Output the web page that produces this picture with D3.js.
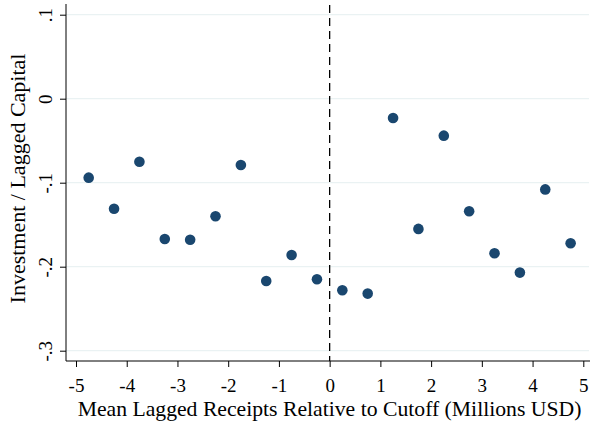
<!DOCTYPE html>
<html>
<head>
<meta charset="utf-8">
<script src="https://cdn.jsdelivr.net/npm/d3@7"></script>
<style>
  html, body { margin: 0; padding: 0; background: #fff; }
  svg { display: block; font-family: "Liberation Serif", "Times New Roman", serif; }
</style>
</head>
<body>
<svg id="chart" width="590" height="427"></svg>
<script>
// Binned means: receipts relative to cutoff (bin midpoints) vs investment ratio
const binCenters = [-4.75, -4.25, -3.75, -3.25, -2.75, -2.25, -1.75, -1.25, -0.75, -0.25,
                     0.25, 0.75, 1.25, 1.75, 2.25, 2.75, 3.25, 3.75, 4.25, 4.75];
const investmentRatio = [-0.094, -0.131, -0.075, -0.167, -0.168, -0.140, -0.079, -0.217, -0.186, -0.215,
                         -0.228, -0.232, -0.023, -0.155, -0.044, -0.134, -0.184, -0.207, -0.108, -0.172];
const xTicks = [-5, -4, -3, -2, -1, 0, 1, 2, 3, 4, 5];
const yTicks = [0.1, 0, -0.1, -0.2, -0.3];
const yTickLabels = [".1", "0", "-.1", "-.2", "-.3"];
const xTitle = "Mean Lagged Receipts Relative to Cutoff (Millions USD)";
const yTitle = "Investment / Lagged Capital";
const cutoff = 0;

const svg = d3.select("#chart");
const plot = { left: 66, right: 590, top: 4, bottom: 361 };

const x = d3.scaleLinear().domain([-5, 5]).range([76, 583.3]);
const y = d3.scaleLinear().domain([-0.3, 0.1]).range([350.7, 14.7]);

// horizontal gridlines
svg.append("g").selectAll("line").data(yTicks).join("line")
  .attr("x1", plot.left).attr("x2", plot.right - 1)
  .attr("y1", d => y(d)).attr("y2", d => y(d))
  .attr("stroke", "#eaf2f3").attr("stroke-width", 1.2);

// y axis
const yAxis = svg.append("g").attr("transform", `translate(${plot.left},0)`)
  .call(d3.axisLeft(y).tickValues(yTicks)
    .tickFormat((d, i) => yTickLabels[i]).tickSize(6).tickPadding(0));
yAxis.select(".domain").attr("d", `M0,${plot.top}V${plot.bottom}`).attr("stroke", "#000").attr("stroke-width", 1);
yAxis.selectAll(".tick line").attr("stroke", "#000");
yAxis.selectAll(".tick text")
  .attr("transform", "rotate(-90)")
  .attr("x", 0).attr("y", -14).attr("dy", 0)
  .attr("text-anchor", "middle")
  .attr("font-size", 19).attr("font-family", "Liberation Serif").attr("fill", "#000");

// x axis
const xAxis = svg.append("g").attr("transform", `translate(0,${plot.bottom})`)
  .call(d3.axisBottom(x).tickValues(xTicks).tickFormat(d3.format("d")).tickSize(6).tickPadding(0));
xAxis.select(".domain").attr("d", `M${plot.left},0H${plot.right}`).attr("stroke", "#000").attr("stroke-width", 1);
xAxis.selectAll(".tick line").attr("stroke", "#000");
xAxis.selectAll(".tick text")
  .attr("y", 31).attr("dy", 0)
  .attr("font-size", 19).attr("font-family", "Liberation Serif").attr("fill", "#000")
  .text(d => d < 0 ? "-" + Math.abs(d) : String(d));

// cutoff line
svg.append("line")
  .attr("x1", x(cutoff)).attr("x2", x(cutoff))
  .attr("y1", plot.top + 1).attr("y2", plot.bottom)
  .attr("stroke", "#000").attr("stroke-width", 1.3)
  .attr("stroke-dasharray", "8,5");

// points
svg.append("g").selectAll("circle").data(binCenters).join("circle")
  .attr("cx", d => x(d))
  .attr("cy", (d, i) => y(investmentRatio[i]))
  .attr("r", 5.3)
  .attr("fill", "#1a476f");

// axis titles
svg.append("text")
  .attr("x", 329.5).attr("y", 416)
  .attr("text-anchor", "middle").attr("font-size", 21.7).attr("fill", "#000")
  .text(xTitle);

svg.append("text")
  .attr("transform", `translate(25,178.5) rotate(-90)`)
  .attr("text-anchor", "middle").attr("font-size", 22).attr("fill", "#000")
  .text(yTitle);
</script>
</body>
</html>
